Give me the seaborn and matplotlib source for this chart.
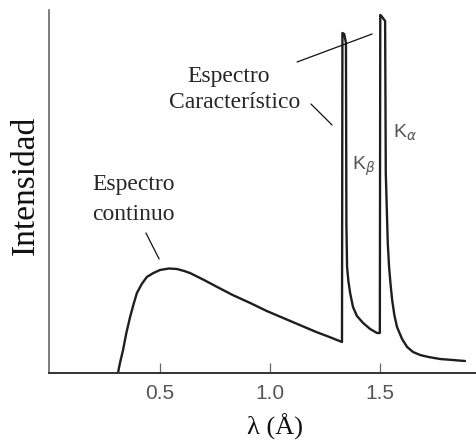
import numpy as np
import pandas as pd
import matplotlib
matplotlib.use("Agg")
import matplotlib.pyplot as plt
import seaborn as sns

# ------------------------------
# Data (wavelength in Å, intensity in arbitrary units)
# ------------------------------
# continuous spectrum up to the K-beta edge
cont_lambda = [0.309, 0.318, 0.332, 0.347, 0.364, 0.380, 0.395, 0.417, 0.440, 0.470,
               0.500, 0.540, 0.577, 0.610, 0.636, 0.700, 0.760, 0.830, 0.910, 0.985,
               1.060, 1.135, 1.210, 1.270, 1.327]
cont_int = [0, 10, 23, 40, 56, 69, 80, 89, 96, 100,
            103, 104.5, 104, 102, 100, 93, 86, 78, 70, 62,
            55, 48, 41, 36, 31]

# K-beta line and the tail after it
kb_lambda = [1.329, 1.337, 1.345, 1.347, 1.350, 1.356, 1.364, 1.377, 1.395, 1.423,
             1.455, 1.486, 1.499]
kb_int = [340, 339, 330, 150, 106, 92, 80, 66, 57, 50,
          44, 40, 40]

# K-alpha line and the tail after it
ka_lambda = [1.501, 1.506, 1.523, 1.526, 1.535, 1.541, 1.548, 1.555, 1.565, 1.577,
             1.600, 1.623, 1.650, 1.682, 1.720, 1.773, 1.830, 1.886]
ka_int = [358, 357, 352, 200, 130, 106, 88, 73, 58, 46,
          34, 26, 21, 18, 16, 14, 13, 12]

tick_values = [0.5, 1.0, 1.5]
tick_labels = ["0.5", "1.0", "1.5"]

# leader lines for the annotations: (x0, y0, x1, y1)
leader_char_top = (1.123, 311, 1.464, 339)
leader_char_low = (1.186, 269, 1.282, 248)
leader_cont = (0.436, 140, 0.496, 114)

spectrum = pd.DataFrame({"lambda": cont_lambda + kb_lambda + ka_lambda,
                         "I": cont_int + kb_int + ka_int})

# ------------------------------
# Style
# ------------------------------
sns.set_theme(style="white")
plt.rcParams["font.family"] = ["Liberation Sans", "DejaVu Sans"]
plt.rcParams["mathtext.fontset"] = "dejavusans"

fig = plt.figure(figsize=(4.76, 4.4), dpi=100)
ax = fig.add_axes([49 / 476, 1 - 373 / 440, 427 / 476, 363 / 440])

sns.lineplot(data=spectrum, x="lambda", y="I", sort=False, estimator=None,
             color="#1e1e1e", linewidth=1.7, ax=ax)

ax.set_xlim(-0.0045, 1.936)
ax.set_ylim(0, 363)

# spines: only left and bottom
for side in ["top", "right"]:
    ax.spines[side].set_visible(False)
ax.spines["left"].set_color("#666666")
ax.spines["left"].set_linewidth(1.2)
ax.spines["bottom"].set_color("#333333")
ax.spines["bottom"].set_linewidth(1.4)

ax.set_xticks(tick_values)
ax.set_xticklabels(tick_labels)
ax.set_yticks([])
ax.tick_params(axis="x", direction="in", length=7, width=0.9, color="#666666",
               pad=8, labelsize=15, labelcolor="#555555", bottom=True)

# ------------------------------
# Axis labels (serif)
# ------------------------------
serif = ["Liberation Serif", "DejaVu Serif"]
ax.set_xlabel("λ (Å)", family=serif, fontsize=19, color="#111111")
ax.xaxis.set_label_coords(0.529, -0.112)
ax.set_ylabel("Intensidad", family=serif, fontsize=24, color="#111111", va="center")
ax.yaxis.set_label_coords(-0.056, 0.518)

# ------------------------------
# Annotations
# ------------------------------
ax.text(0.814, 291, "Espectro", family=serif, fontsize=17, ha="center", va="baseline")
ax.text(0.841, 265, "Característico", family=serif, fontsize=17, ha="center", va="baseline")
ax.text(0.191, 183, "Espectro", family=serif, fontsize=17, ha="left", va="baseline")
ax.text(0.191, 153, "continuo", family=serif, fontsize=17, ha="left", va="baseline")

for x0, y0, x1, y1 in [leader_char_top, leader_char_low, leader_cont]:
    ax.annotate("", xy=(x1, y1), xytext=(x0, y0),
                arrowprops=dict(arrowstyle="-", lw=0.9, color="#111111",
                                shrinkA=0, shrinkB=0))

ax.text(1.373, 203, r"K$_\beta$", fontsize=14, color="#555555", ha="left", va="baseline")
ax.text(1.559, 235, r"K$_\alpha$", fontsize=14, color="#555555", ha="left", va="baseline")

fig.savefig("out.png", dpi=100, facecolor="white")
